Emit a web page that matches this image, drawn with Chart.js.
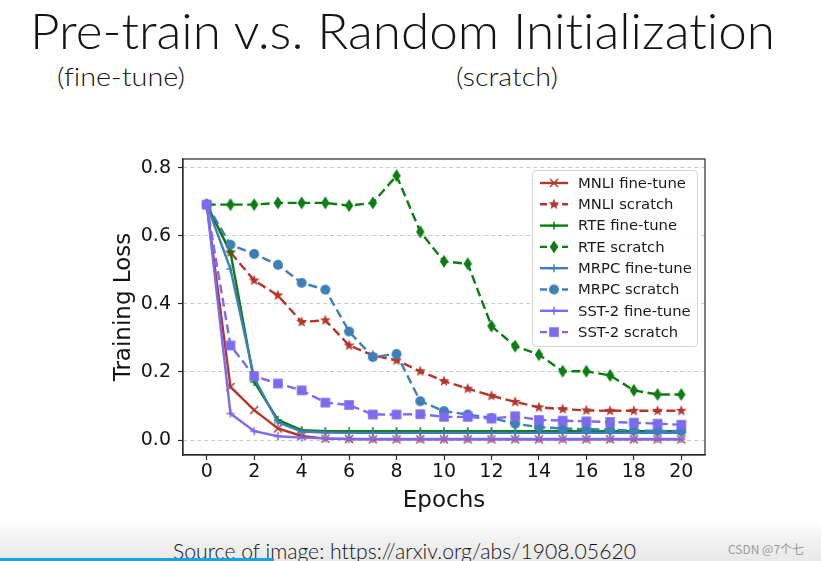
<!DOCTYPE html>
<html>
<head>
<meta charset="utf-8">
<script src="https://cdn.jsdelivr.net/npm/chart.js@4.4.1/dist/chart.umd.min.js"></script>
<style>
  html, body { margin: 0; padding: 0; }
  body {
    width: 821px; height: 561px; overflow: hidden; position: relative;
    background: linear-gradient(#ffffff 0, #ffffff 520px, #f1f1f1 540px, #e9e9e9 561px);
    font-family: "Lato", "Open Sans", sans-serif; color: #141414;
  }
  .txt { position: absolute; white-space: nowrap; transform-origin: left top; font-weight: 300; font-variant-ligatures: none; }
  #title { left: 30px; top: 5px; font-size: 50px; line-height: 50px; }
  #subFine { left: 57px; top: 63px; font-size: 26px; line-height: 26px; }
  #subScratch { left: 456px; top: 63px; font-size: 26px; line-height: 26px; }
  #source { left: 173px; top: 540px; font-size: 22px; line-height: 22px; }
  #mark { position: absolute; left: 728px; top: 540px; font: 12px "Noto Sans CJK SC", sans-serif; color: #9a9a9a; }
  #bar { position: absolute; left: 0; top: 558px; width: 274px; height: 3px; background: #1aa3e0; }
  #wrap { position: absolute; left: 100px; top: 151px; width: 620px; height: 369px; }
</style>
</head>
<body>
<div class="txt" id="title">Pre-train v.s. Random Initialization</div>
<div class="txt" id="subFine">(fine-tune)</div>
<div class="txt" id="subScratch">(scratch)</div>
<div class="txt" id="source">Source of image: https://arxiv.org/abs/1908.05620</div>
<div id="mark">CSDN @7个七</div>
<div id="bar"></div>
<div id="wrap"><canvas id="lossChart"></canvas></div>
<script>
const epochs = [0, 1, 2, 3, 4, 5, 6, 7, 8, 9, 10, 11, 12, 13, 14, 15, 16, 17, 18, 19, 20];
const xTicks = [0, 2, 4, 6, 8, 10, 12, 14, 16, 18, 20];
const yTicks = [0.0, 0.2, 0.4, 0.6, 0.8];

const mnliFineTune = [0.692, 0.156, 0.088, 0.034, 0.012, 0.004, 0.003, 0.002, 0.002, 0.002, 0.002, 0.002, 0.002, 0.002, 0.002, 0.002, 0.002, 0.002, 0.002, 0.002, 0.002];
const mnliScratch  = [0.692, 0.552, 0.469, 0.425, 0.347, 0.352, 0.278, 0.249, 0.234, 0.202, 0.173, 0.151, 0.130, 0.112, 0.096, 0.091, 0.087, 0.086, 0.086, 0.086, 0.086];
const rteFineTune  = [0.692, 0.552, 0.171, 0.059, 0.029, 0.026, 0.026, 0.026, 0.026, 0.026, 0.026, 0.026, 0.026, 0.026, 0.026, 0.026, 0.026, 0.026, 0.026, 0.026, 0.026];
const rteScratch   = [0.692, 0.692, 0.692, 0.697, 0.697, 0.697, 0.689, 0.697, 0.777, 0.612, 0.525, 0.518, 0.335, 0.276, 0.251, 0.202, 0.202, 0.190, 0.146, 0.134, 0.134];
const mrpcFineTune = [0.692, 0.503, 0.183, 0.052, 0.025, 0.022, 0.021, 0.021, 0.021, 0.021, 0.021, 0.021, 0.021, 0.021, 0.021, 0.021, 0.021, 0.021, 0.021, 0.021, 0.021];
const mrpcScratch  = [0.692, 0.574, 0.547, 0.515, 0.462, 0.442, 0.319, 0.244, 0.253, 0.114, 0.085, 0.075, 0.065, 0.048, 0.038, 0.034, 0.032, 0.030, 0.028, 0.027, 0.026];
const sstFineTune  = [0.692, 0.078, 0.026, 0.011, 0.007, 0.005, 0.003, 0.003, 0.003, 0.003, 0.003, 0.003, 0.003, 0.003, 0.003, 0.003, 0.003, 0.003, 0.003, 0.003, 0.003];
const sstScratch   = [0.692, 0.278, 0.188, 0.166, 0.146, 0.110, 0.103, 0.075, 0.075, 0.076, 0.068, 0.068, 0.063, 0.070, 0.059, 0.057, 0.055, 0.053, 0.051, 0.048, 0.045];

const seriesNames = ["MNLI fine-tune", "MNLI scratch", "RTE fine-tune", "RTE scratch",
                     "MRPC fine-tune", "MRPC scratch", "SST-2 fine-tune", "SST-2 scratch"];
const seriesValues = [mnliFineTune, mnliScratch, rteFineTune, rteScratch,
                      mrpcFineTune, mrpcScratch, sstFineTune, sstScratch];

const red = "#b5362c", green = "#0b7d12", blue = "#3f7fb8", purple = "#7b6cef";
const seriesStyle = [
  { color: red, dashed: false, marker: "x" },
  { color: red, dashed: true, marker: "star" },
  { color: green, dashed: false, marker: "plus" },
  { color: green, dashed: true, marker: "diamond" },
  { color: blue, dashed: false, marker: "plus" },
  { color: blue, dashed: true, marker: "circle" },
  { color: purple, dashed: false, marker: "plus" },
  { color: purple, dashed: true, marker: "square" }
];

// small canvases used as point markers (matplotlib style)
function makeMarker(kind, color) {
  const c = document.createElement("canvas");
  const s = kind === "diamond" ? [10, 14] : [12, 12];
  c.width = s[0]; c.height = s[1];
  const g = c.getContext("2d");
  const cx = s[0] / 2, cy = s[1] / 2;
  g.fillStyle = color; g.strokeStyle = color; g.lineWidth = 1.5;
  if (kind === "x") {
    g.beginPath();
    g.moveTo(cx - 4, cy - 4); g.lineTo(cx + 4, cy + 4);
    g.moveTo(cx + 4, cy - 4); g.lineTo(cx - 4, cy + 4);
    g.stroke();
  } else if (kind === "plus") {
    g.beginPath();
    g.moveTo(cx - 4, cy); g.lineTo(cx + 4, cy);
    g.moveTo(cx, cy - 4); g.lineTo(cx, cy + 4);
    g.stroke();
  } else if (kind === "star") {
    g.beginPath();
    for (let i = 0; i < 10; i++) {
      const r = i % 2 === 0 ? 5.8 : 2.4;
      const a = -Math.PI / 2 + i * Math.PI / 5;
      g.lineTo(cx + r * Math.cos(a), cy + r * Math.sin(a));
    }
    g.closePath(); g.fill();
  } else if (kind === "diamond") {
    g.beginPath();
    g.moveTo(cx, cy - 6.5); g.lineTo(cx + 4.2, cy); g.lineTo(cx, cy + 6.5); g.lineTo(cx - 4.2, cy);
    g.closePath(); g.fill();
  } else if (kind === "circle") {
    g.beginPath(); g.arc(cx, cy, 5, 0, Math.PI * 2); g.fill();
  } else if (kind === "square") {
    g.fillRect(cx - 4.8, cy - 4.8, 9.6, 9.6);
  }
  return c;
}

const markers = seriesStyle.map(st => makeMarker(st.marker, st.color));
const dashPattern = [9, 4.5];

const datasets = seriesNames.map((name, i) => ({
  label: name,
  data: epochs.map((e, j) => ({ x: e, y: seriesValues[i][j] })),
  borderColor: seriesStyle[i].color,
  backgroundColor: seriesStyle[i].color,
  borderWidth: 2.4,
  borderDash: seriesStyle[i].dashed ? dashPattern : [],
  pointStyle: markers[i],
  pointRadius: 5,
  fill: false,
  tension: 0,
  order: seriesNames.length - i
}));

const framePlugin = {
  id: "frame",
  afterDraw(chart) {
    const { ctx, chartArea: a } = chart;
    ctx.save();
    ctx.strokeStyle = "#2a2a2a"; ctx.lineWidth = 1.2;
    ctx.strokeRect(a.left, a.top, a.right - a.left, a.bottom - a.top);
    ctx.restore();
  }
};

const legendPlugin = {
  id: "innerLegend",
  afterDraw(chart) {
    const { ctx, chartArea: a } = chart;
    const boxW = 165, rowH = 21.3, boxH = 176;
    const bx = a.right - 8 - boxW, by = a.top + 11;
    ctx.save();
    ctx.fillStyle = "rgba(255,255,255,0.85)";
    ctx.strokeStyle = "#d4d4d4"; ctx.lineWidth = 1;
    ctx.beginPath();
    ctx.roundRect(bx + 0.5, by + 0.5, boxW, boxH, 4);
    ctx.fill(); ctx.stroke();
    ctx.font = "14.8px 'DejaVu Sans'";
    ctx.textBaseline = "middle";
    seriesNames.forEach((name, i) => {
      const y = by + 13 + i * rowH;
      const st = seriesStyle[i];
      ctx.strokeStyle = st.color; ctx.lineWidth = 2.4;
      ctx.setLineDash(st.dashed ? [7, 4] : []);
      ctx.beginPath(); ctx.moveTo(bx + 8, y); ctx.lineTo(bx + 36, y); ctx.stroke();
      ctx.setLineDash([]);
      const m = markers[i];
      ctx.drawImage(m, bx + 22 - m.width / 2, y - m.height / 2);
      ctx.fillStyle = "#1a1a1a";
      ctx.fillText(name, bx + 46, y + 1);
    });
    ctx.restore();
  }
};

new Chart(document.getElementById("lossChart"), {
  type: "line",
  data: { datasets },
  options: {
    responsive: true,
    maintainAspectRatio: false,
    animation: false,
    layout: { padding: { top: 8, right: 15, left: 0, bottom: 0 } },
    plugins: { legend: { display: false }, tooltip: { enabled: false } },
    scales: {
      x: {
        type: "linear",
        min: -1,
        max: 21,
        afterBuildTicks: scale => { scale.ticks = xTicks.map(v => ({ value: v })); },
        afterFit: scale => { scale.height = 65; scale.paddingLeft = 0; scale.paddingRight = 0; },
        grid: { drawOnChartArea: false, drawTicks: true, tickLength: 5, tickColor: "#2a2a2a", tickWidth: 1.2 },
        border: { color: "#2a2a2a", width: 1.2 },
        ticks: { font: { family: "DejaVu Sans", size: 19 }, color: "#141414", padding: 1, maxRotation: 0, autoSkip: false },
        title: { display: true, text: "Epochs", font: { family: "DejaVu Sans", size: 23 }, color: "#141414", padding: { top: 0, bottom: 5 } }
      },
      y: {
        min: -0.044,
        max: 0.826,
        afterBuildTicks: scale => { scale.ticks = yTicks.map(v => ({ value: v })); },
        afterFit: scale => { scale.width = 83; scale.paddingTop = 0; scale.paddingBottom = 0; },
        grid: { color: "#cccccc", lineWidth: 1, drawTicks: true, tickLength: 5, tickColor: "#2a2a2a", tickWidth: 1.2 },
        border: { color: "#2a2a2a", width: 1.2, dash: [4, 3] },
        ticks: {
          font: { family: "DejaVu Sans", size: 19 }, color: "#141414", padding: 7,
          callback: v => v.toFixed(1)
        },
        title: { display: true, text: "Training Loss", font: { family: "DejaVu Sans", size: 23 }, color: "#141414", padding: { top: 10, bottom: 0 } }
      }
    }
  },
  plugins: [framePlugin, legendPlugin]
});

// squeeze slide texts to the widths they have on the slide
function fitWidth(id, target) {
  const el = document.getElementById(id);
  const w = el.getBoundingClientRect().width;
  if (w > 0) el.style.transform = `scaleX(${target / w})`;
}
fitWidth("title", 745);
fitWidth("subFine", 128);
fitWidth("subScratch", 102);
fitWidth("source", 463);
</script>
</body>
</html>
